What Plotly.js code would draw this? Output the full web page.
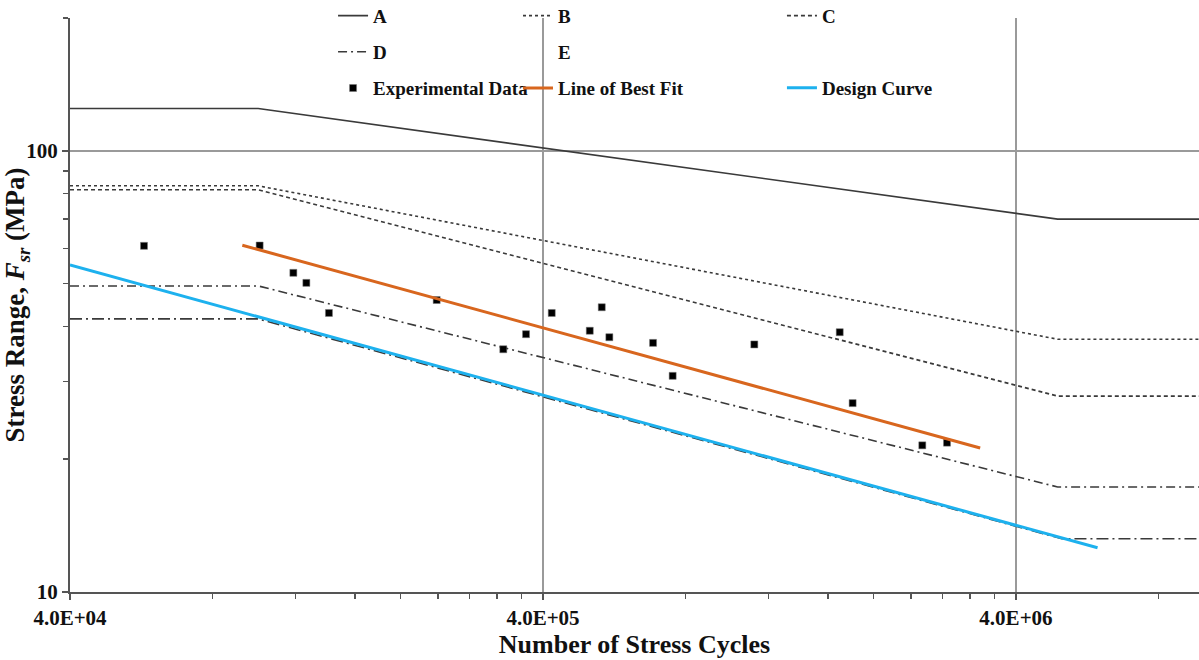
<!DOCTYPE html>
<html><head><meta charset="utf-8">
<script src="https://cdn.plot.ly/plotly-3.0.1.min.js"></script>
<style>html,body{margin:0;padding:0;background:#fff}#chart{width:1199px;height:660px}</style>
</head><body><div id="chart"></div>
<script>
// Fatigue category lines (x = cycles, y = MPa)
const catX = [4e4, 1.0e5, 4.9e6, 1e7];
const catEX = [4e4, 1.0e5, 5.0e6, 1e7];
const catA = [124.7, 124.7, 70.0, 70.0];
const catB = [83.3, 83.3, 37.4, 37.4];
const catC = [81.6, 81.6, 27.8, 27.8];
const catD = [49.4, 49.4, 17.3, 17.3];
const catE = [41.6, 41.6, 13.2, 13.2];

// Experimental data
const expN = [57350, 100700, 118650, 126400, 141100, 238400, 329700, 368300, 417400, 502300,
              532500, 552500, 683500, 752000, 1119000, 1696000, 1806000, 2535000, 2859000];
const expS = [60.9, 61.0, 52.9, 50.2, 42.9, 45.9, 35.5, 38.4, 42.9, 39.1,
              44.2, 37.8, 36.7, 30.9, 36.4, 38.8, 26.8, 21.5, 21.8];

// Line of best fit and design curve
const fitN = [92550, 3.36e6];
const fitS = [61.1, 21.2];
const desN = [4e4, 5.95e6];
const desS = [55.1, 12.6];

// Axis ticks
const xTicks = [4e4, 4e5, 4e6];
const xTickText = ['4.0E+04', '4.0E+05', '4.0E+06'];
const xMinor = [8e4,1.2e5,1.6e5,2e5,2.4e5,2.8e5,3.2e5,3.6e5,8e5,1.2e6,1.6e6,2e6,2.4e6,2.8e6,3.2e6,3.6e6,8e6];
const yTicks = [10, 100];
const yTickText = ['10', '100'];
const yMinor = [20,30,40,50,60,70,80,90,200];

const ink = '#3a3a3a';
const serif = 'Liberation Serif, Times New Roman, serif';

function cat(name, xs, ys, dash, leg, grp, show) {
  return {x: xs, y: ys, type: 'scatter', mode: 'lines', name: name,
    line: {color: ink, width: 1.6, dash: dash}, legend: leg, legendgroup: grp,
    showlegend: show !== false, hoverinfo: 'skip'};
}

const traces = [
  cat('A', catX, catA, 'solid', 'legend', 'a'),
  cat('B', catX, catB, 'dot', 'legend2', 'b'),
  cat('C', catX, catC, '4px,3px', 'legend3', 'c'),
  cat('D', catX, catD, '9px,4px,2px,4px', 'legend', 'd'),
  cat('E', catEX, catE, '12px,4px,2px,4px', 'legend2', 'e', false),
  {x: catEX, y: catE, type: 'scatter', mode: 'lines', name: 'E',
   line: {color: 'rgba(0,0,0,0)', width: 1}, legend: 'legend2', legendgroup: 'e2', hoverinfo: 'skip'},
  {x: expN, y: expS, type: 'scatter', mode: 'markers', name: 'Experimental Data',
   marker: {symbol: 'square', size: 7, color: '#000', line: {color: '#777', width: 0.5}},
   legend: 'legend', legendgroup: 'x'},
  {x: fitN, y: fitS, type: 'scatter', mode: 'lines', name: 'Line of Best Fit',
   line: {color: '#D8661E', width: 3}, legend: 'legend2', legendgroup: 'f'},
  {x: desN, y: desS, type: 'scatter', mode: 'lines', name: 'Design Curve',
   line: {color: '#1DB1EE', width: 3}, legend: 'legend3', legendgroup: 'g'}
];

const legFont = {family: serif, size: 19, color: '#111', weight: 'bold'};
function leg(x, gap) {
  return {x: x, y: 1.037, xanchor: 'left', yanchor: 'top', orientation: 'v',
    bgcolor: 'rgba(0,0,0,0)', font: legFont, tracegroupgap: gap, itemwidth: 30,
    traceorder: 'grouped'};
}

const layout = {
  width: 1199, height: 660,
  margin: {l: 70, r: 0, t: 18, b: 68, autoexpand: false},
  paper_bgcolor: '#fff', plot_bgcolor: '#fff',
  showlegend: true,
  legend: leg(0.2330, 8.5),
  legend2: leg(0.3968, 8.5),
  legend3: leg(0.6306, 44.5),
  xaxis: {
    type: 'log', range: [Math.log10(4e4), 6.989], automargin: false,
    tickmode: 'array', tickvals: xTicks, ticktext: xTickText,
    tickfont: {family: serif, size: 21, color: '#111', weight: 'bold'},
    ticks: 'outside', ticklen: 6, tickwidth: 1.5, tickcolor: '#555',
    showline: true, linecolor: '#555', linewidth: 2, mirror: false,
    showgrid: true, gridcolor: '#9a9a9a', gridwidth: 1.5,
    zeroline: false,
    minor: {tickmode: 'array', tickvals: xMinor, ticks: 'outside', ticklen: 5, tickwidth: 1.5, tickcolor: '#555', showgrid: false},
    title: {text: 'Number of Stress Cycles', font: {family: serif, size: 26, color: '#111', weight: 'bold'}, standoff: 4}
  },
  yaxis: {
    type: 'log', range: [1, Math.log10(200)], automargin: false,
    tickmode: 'array', tickvals: yTicks, ticktext: yTickText,
    tickfont: {family: serif, size: 21, color: '#111', weight: 'bold'},
    ticks: 'outside', ticklen: 6, tickwidth: 1.5, tickcolor: '#555',
    showline: true, linecolor: '#555', linewidth: 2, mirror: false,
    showgrid: true, gridcolor: '#9a9a9a', gridwidth: 1.5,
    zeroline: false,
    minor: {tickmode: 'array', tickvals: yMinor, ticks: 'outside', ticklen: 5, tickwidth: 1.5, tickcolor: '#555', showgrid: false},
    title: {text: 'Stress Range, <i>F</i><sub><i>sr</i></sub> (MPa)', font: {family: serif, size: 27, color: '#111', weight: 'bold'}, standoff: 0}
  }
};

Plotly.newPlot('chart', traces, layout, {displayModeBar: false, staticPlot: true});
</script>
</body></html>
